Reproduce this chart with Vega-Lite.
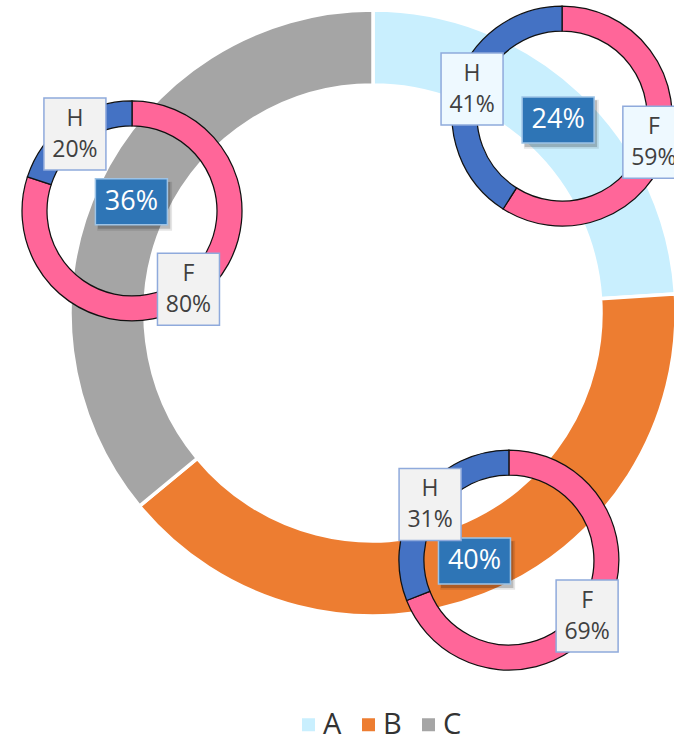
{
  "$schema": "https://vega.github.io/schema/vega-lite/v6.json",
  "width": 674,
  "height": 739,
  "padding": 0,
  "autosize": {"type": "none"},
  "background": "white",
  "config": {"view": {"stroke": null}, "font": "Open Sans"},
  "datasets": {
    "main": [
      {"cat": "A", "value": 24, "cx": 0, "cy": 0},
      {"cat": "B", "value": 40, "cx": 0, "cy": 0},
      {"cat": "C", "value": 36, "cx": 0, "cy": 0}
    ],
    "sub": [
      {"donut": "A", "part": "F", "value": 59, "cx": 0.626, "cy": 0.652},
      {"donut": "A", "part": "H", "value": 41, "cx": 0.626, "cy": 0.652},
      {"donut": "B", "part": "F", "value": 69, "cx": 0.45, "cy": -0.818},
      {"donut": "B", "part": "H", "value": 31, "cx": 0.45, "cy": -0.818},
      {"donut": "C", "part": "F", "value": 80, "cx": -0.798, "cy": 0.338},
      {"donut": "C", "part": "H", "value": 20, "cx": -0.798, "cy": 0.338}
    ],
    "labels": [
      {"donut": "A", "label": "H\n41%", "lx": 0.328, "ly": 0.742},
      {"donut": "A", "label": "F\n59%", "lx": 0.93, "ly": 0.565},
      {"donut": "C", "label": "H\n20%", "lx": -0.987, "ly": 0.593},
      {"donut": "C", "label": "F\n80%", "lx": -0.611, "ly": 0.079},
      {"donut": "B", "label": "H\n31%", "lx": 0.189, "ly": -0.634},
      {"donut": "B", "label": "F\n69%", "lx": 0.709, "ly": -1.003}
    ],
    "centers": [
      {"donut": "A", "label": "24%", "lx": 0.613, "ly": 0.639},
      {"donut": "C", "label": "36%", "lx": -0.8, "ly": 0.368},
      {"donut": "B", "label": "40%", "lx": 0.336, "ly": -0.821}
    ]
  },
  "layer": [
    {
      "data": {"name": "main"},
      "mark": {"type": "arc", "outerRadius": 303, "innerRadius": 228, "stroke": "white", "strokeWidth": 3.5},
      "encoding": {
        "x": {"field": "cx", "type": "quantitative", "axis": null, "scale": {"domain": [-1.2351, 0.9967], "nice": false, "zero": false}},
        "y": {"field": "cy", "type": "quantitative", "axis": null, "scale": {"domain": [-1.4106, 1.0364], "nice": false, "zero": false}},
        "theta": {"field": "value", "type": "quantitative", "stack": true},
        "color": {
          "field": "cat", "type": "nominal",
          "scale": {"domain": ["A", "B", "C", "F", "H"], "range": ["#C9EFFE", "#ED7D31", "#A5A5A5", "#FF6699", "#4472C4"]},
          "legend": {
            "values": ["A", "B", "C"], "orient": "none", "legendX": 294, "legendY": 710,
            "direction": "horizontal", "title": null, "symbolType": "square", "symbolSize": 169,
            "symbolStrokeWidth": 0, "labelFontSize": 29, "labelFont": "Open Sans", "labelColor": "#333333",
            "labelOffset": 0, "columnPadding": 12
          }
        }
      }
    },
    {
      "data": {"name": "sub"},
      "transform": [{"filter": "datum.donut === 'A'"}],
      "mark": {"type": "arc", "outerRadius": 110, "innerRadius": 85, "stroke": "#111111", "strokeWidth": 1.25},
      "encoding": {
        "x": {"field": "cx", "type": "quantitative", "axis": null},
        "y": {"field": "cy", "type": "quantitative", "axis": null},
        "theta": {"field": "value", "type": "quantitative", "stack": true},
        "color": {"field": "part", "type": "nominal", "legend": null}
      }
    },
    {
      "data": {"name": "sub"},
      "transform": [{"filter": "datum.donut === 'B'"}],
      "mark": {"type": "arc", "outerRadius": 110, "innerRadius": 85, "stroke": "#111111", "strokeWidth": 1.25},
      "encoding": {
        "x": {"field": "cx", "type": "quantitative", "axis": null},
        "y": {"field": "cy", "type": "quantitative", "axis": null},
        "theta": {"field": "value", "type": "quantitative", "stack": true},
        "color": {"field": "part", "type": "nominal", "legend": null}
      }
    },
    {
      "data": {"name": "sub"},
      "transform": [{"filter": "datum.donut === 'C'"}],
      "mark": {"type": "arc", "outerRadius": 110, "innerRadius": 85, "stroke": "#111111", "strokeWidth": 1.25},
      "encoding": {
        "x": {"field": "cx", "type": "quantitative", "axis": null},
        "y": {"field": "cy", "type": "quantitative", "axis": null},
        "theta": {"field": "value", "type": "quantitative", "stack": true},
        "color": {"field": "part", "type": "nominal", "legend": null}
      }
    },
    {
      "data": {"name": "centers"},
      "mark": {"type": "point", "shape": "M-0.95,-0.56H1.13V0.8H-0.95Z", "size": 5184, "filled": true, "fill": "#000000", "opacity": 0.1, "strokeWidth": 0},
      "encoding": {
        "x": {"field": "lx", "type": "quantitative", "axis": null},
        "y": {"field": "ly", "type": "quantitative", "axis": null}
      }
    },
    {
      "data": {"name": "centers"},
      "mark": {"type": "point", "shape": "M-0.93,-0.55H1.08V0.75H-0.93Z", "size": 5184, "filled": true, "fill": "#000000", "opacity": 0.18, "strokeWidth": 0},
      "encoding": {
        "x": {"field": "lx", "type": "quantitative", "axis": null},
        "y": {"field": "ly", "type": "quantitative", "axis": null}
      }
    },
    {
      "data": {"name": "centers"},
      "mark": {"type": "point", "shape": "M-1,-0.639H1V0.639H-1Z", "size": 5184, "filled": true, "fill": "#2E75B6", "stroke": "#9DC3E6", "strokeWidth": 1.5, "opacity": 1},
      "encoding": {
        "x": {"field": "lx", "type": "quantitative", "axis": null},
        "y": {"field": "ly", "type": "quantitative", "axis": null}
      }
    },
    {
      "data": {"name": "centers"},
      "mark": {"type": "text", "fontSize": 27, "color": "white", "align": "center", "baseline": "middle", "font": "Open Sans"},
      "encoding": {
        "x": {"field": "lx", "type": "quantitative", "axis": null},
        "y": {"field": "ly", "type": "quantitative", "axis": null},
        "text": {"field": "label"}
      }
    },
    {
      "data": {"name": "labels"},
      "mark": {"type": "point", "shape": "M-1,-1.161H1V1.161H-1Z", "size": 3844, "filled": true, "stroke": "#8FAADC", "strokeWidth": 1.5, "opacity": 1},
      "encoding": {
        "x": {"field": "lx", "type": "quantitative", "axis": null},
        "y": {"field": "ly", "type": "quantitative", "axis": null},
        "fill": {"field": "donut", "type": "nominal", "scale": {"domain": ["A", "B", "C"], "range": ["#EEF9FF", "#F2F2F2", "#F2F2F2"]}, "legend": null}
      }
    },
    {
      "data": {"name": "labels"},
      "mark": {"type": "text", "fontSize": 23, "color": "#404040", "align": "center", "baseline": "middle", "lineBreak": "\n", "lineHeight": 31, "dy": -15, "font": "Open Sans"},
      "encoding": {
        "x": {"field": "lx", "type": "quantitative", "axis": null},
        "y": {"field": "ly", "type": "quantitative", "axis": null},
        "text": {"field": "label"}
      }
    }
  ]
}
